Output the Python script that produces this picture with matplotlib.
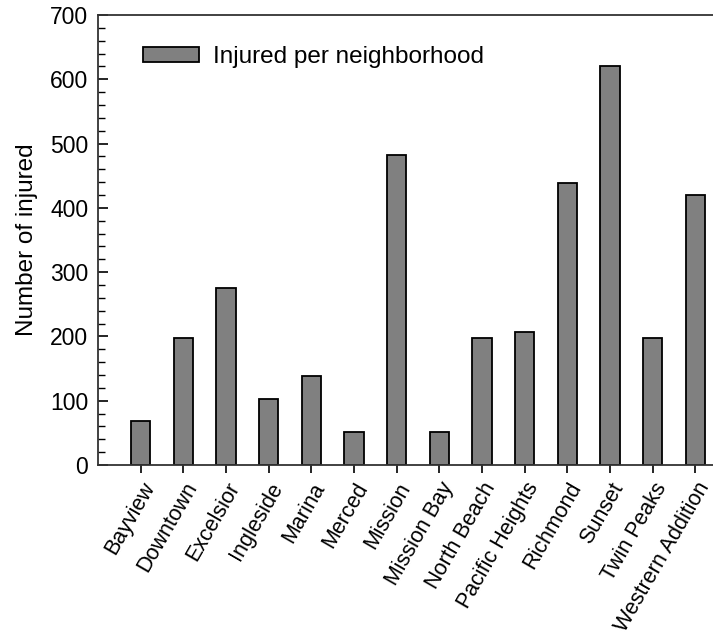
import numpy as np
import matplotlib
matplotlib.use("Agg")
import matplotlib.pyplot as plt
from matplotlib.ticker import MultipleLocator

plt.rcParams['font.family'] = ['Liberation Sans', 'DejaVu Sans']

neighborhoods = ['Bayview', 'Downtown', 'Excelsior', 'Ingleside', 'Marina', 'Merced',
                 'Mission', 'Mission Bay', 'North Beach', 'Pacific Heights', 'Richmond',
                 'Sunset', 'Twin Peaks', 'Westrern Addition']
injured = [68, 197, 275, 103, 138, 51, 482, 51, 197, 207, 438, 620, 197, 420]

fig = plt.figure(figsize=(7.13, 6.34), dpi=100)
# axes runs past the right edge of the figure, as in the original
ax = fig.add_axes([98 / 713, 1 - 465 / 634, 640 / 713, 450 / 634])

x = np.arange(len(neighborhoods))
ax.bar(x, injured, width=0.45, color='#808080', edgecolor='black', linewidth=1.3,
       label='Injured per neighborhood')

ax.set_xlim(-1, 14)
ax.set_ylim(0, 700)
ax.set_xticks(x)
ax.set_xticklabels(neighborhoods, rotation=60, ha='right', rotation_mode='anchor',
                   fontsize=15.5)
ax.yaxis.set_major_locator(MultipleLocator(100))
ax.yaxis.set_minor_locator(MultipleLocator(20))
ax.tick_params(axis='y', which='major', direction='in', length=7, width=1.2,
               labelsize=16.5, pad=7)
ax.tick_params(axis='y', which='minor', direction='in', length=5, width=1.0)
ax.tick_params(axis='x', which='major', direction='out', length=6, width=1.2, pad=4)
ax.set_ylabel('Number of injured', fontsize=17.5, labelpad=9)

for s in ax.spines.values():
    s.set_linewidth(1.3)
    s.set_color('#333333')

ax.legend(loc='upper left', bbox_to_anchor=(0.0703, 0.931), frameon=False, fontsize=17.5,
          borderpad=0, borderaxespad=0,
          handlelength=2.3, handleheight=0.55, handletextpad=0.6)

fig.savefig('out.png', dpi=100)
